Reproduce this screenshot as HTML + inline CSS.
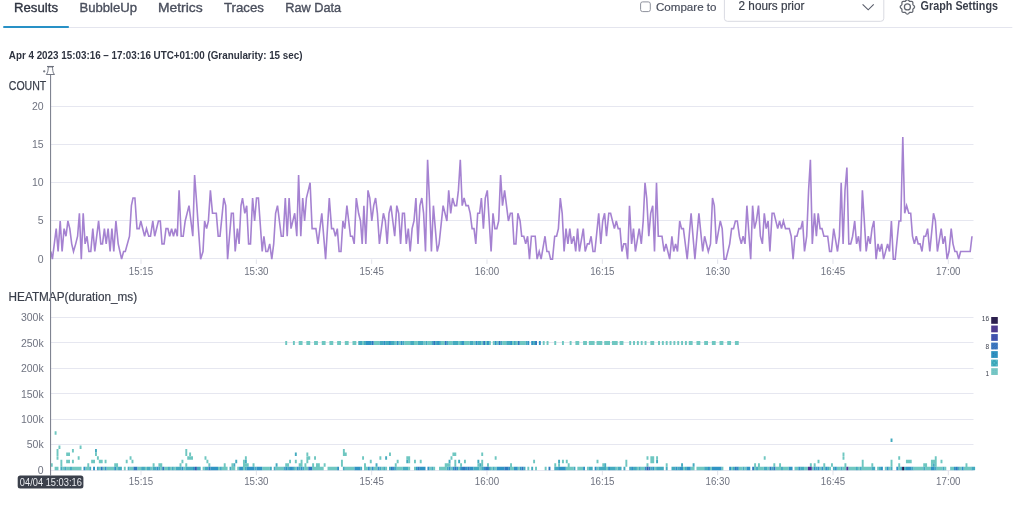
<!DOCTYPE html><html><head><meta charset="utf-8"><style>html,body{margin:0;padding:0;background:#fff;overflow:hidden}svg{display:block}text{font-family:"Liberation Sans",sans-serif}</style></head><body>
<svg width="1024" height="509" viewBox="0 0 1024 509">
<rect width="1024" height="509" fill="#fff"/>
<rect x="3.3" y="27" width="1009" height="1" fill="#e4e5ee"/>
<rect x="3.3" y="26" width="65.5" height="2" fill="#2891c6"/>
<text x="14" y="12.2" font-size="13.2" fill="#2e3340" stroke="#2e3340" stroke-width="0.35" textLength="44" lengthAdjust="spacingAndGlyphs">Results</text>
<text x="79.5" y="12.2" font-size="13.2" fill="#4a4f5d" stroke="#4a4f5d" stroke-width="0.35" textLength="57.5" lengthAdjust="spacingAndGlyphs">BubbleUp</text>
<text x="158" y="12.2" font-size="13.2" fill="#4a4f5d" stroke="#4a4f5d" stroke-width="0.35" textLength="44.7" lengthAdjust="spacingAndGlyphs">Metrics</text>
<text x="224" y="12.2" font-size="13.2" fill="#4a4f5d" stroke="#4a4f5d" stroke-width="0.35" textLength="40" lengthAdjust="spacingAndGlyphs">Traces</text>
<text x="285.2" y="12.2" font-size="13.2" fill="#4a4f5d" stroke="#4a4f5d" stroke-width="0.35" textLength="56" lengthAdjust="spacingAndGlyphs">Raw Data</text>
<rect x="640.6" y="1.9" width="9.7" height="9.7" rx="2" fill="#fff" stroke="#8e919c" stroke-width="1"/>
<text x="655.9" y="10.5" font-size="11.8" fill="#4a4f5d" stroke="#4a4f5d" stroke-width="0.2" textLength="60.6" lengthAdjust="spacingAndGlyphs">Compare to</text>
<rect x="724.4" y="-6" width="159.4" height="27.3" rx="3" fill="#fff" stroke="#d9dae2" stroke-width="1"/>
<text x="738.6" y="10.3" font-size="12.2" fill="#3a3f4b" stroke="#3a3f4b" stroke-width="0.2" textLength="65.8" lengthAdjust="spacingAndGlyphs">2 hours prior</text>
<path d="M862.6 4.4 L868.2 9.8 L873.7 4.4" fill="none" stroke="#595d6a" stroke-width="1.15"/>
<g transform="translate(907.4 6.9)" fill="none" stroke="#62666f" stroke-width="1.25">
<path d="M0.00 -7.20 L0.47 -7.10 L0.90 -6.84 L1.29 -6.47 L1.63 -6.09 L1.95 -5.76 L2.30 -5.54 L2.69 -5.45 L3.15 -5.46 L3.67 -5.49 L4.20 -5.47 L4.69 -5.35 L5.09 -5.09 L5.35 -4.69 L5.47 -4.20 L5.49 -3.67 L5.46 -3.15 L5.45 -2.69 L5.54 -2.30 L5.76 -1.95 L6.09 -1.63 L6.47 -1.29 L6.84 -0.90 L7.10 -0.47 L7.20 -0.00 L7.10 0.47 L6.84 0.90 L6.47 1.29 L6.09 1.63 L5.76 1.95 L5.54 2.30 L5.45 2.69 L5.46 3.15 L5.49 3.67 L5.47 4.20 L5.35 4.69 L5.09 5.09 L4.69 5.35 L4.20 5.47 L3.67 5.49 L3.15 5.46 L2.69 5.45 L2.30 5.54 L1.95 5.76 L1.63 6.09 L1.29 6.47 L0.90 6.84 L0.47 7.10 L0.00 7.20 L-0.47 7.10 L-0.90 6.84 L-1.29 6.47 L-1.63 6.09 L-1.95 5.76 L-2.30 5.54 L-2.69 5.45 L-3.15 5.46 L-3.67 5.49 L-4.20 5.47 L-4.69 5.35 L-5.09 5.09 L-5.35 4.69 L-5.47 4.20 L-5.49 3.67 L-5.46 3.15 L-5.45 2.69 L-5.54 2.30 L-5.76 1.95 L-6.09 1.63 L-6.47 1.29 L-6.84 0.90 L-7.10 0.47 L-7.20 0.00 L-7.10 -0.47 L-6.84 -0.90 L-6.47 -1.29 L-6.09 -1.63 L-5.76 -1.95 L-5.54 -2.30 L-5.45 -2.69 L-5.46 -3.15 L-5.49 -3.67 L-5.47 -4.20 L-5.35 -4.69 L-5.09 -5.09 L-4.69 -5.35 L-4.20 -5.47 L-3.67 -5.49 L-3.15 -5.46 L-2.69 -5.45 L-2.30 -5.54 L-1.95 -5.76 L-1.63 -6.09 L-1.29 -6.47 L-0.90 -6.84 L-0.47 -7.10 Z"/>
<circle r="3.0"/></g>
<text x="920.6" y="10.4" font-size="12.2" font-weight="700" fill="#3a3f4b" textLength="77.4" lengthAdjust="spacingAndGlyphs">Graph Settings</text>
<text x="8.8" y="58.7" font-size="10.3" font-weight="700" fill="#2e3340" textLength="293.7" lengthAdjust="spacingAndGlyphs">Apr 4 2023 15:03:16 – 17:03:16 UTC+01:00 (Granularity: 15 sec)</text>
<text x="8.8" y="90" font-size="13" fill="#3a3f4b" stroke="#3a3f4b" stroke-width="0.25" textLength="37.5" lengthAdjust="spacingAndGlyphs">COUNT</text>
<text x="8.6" y="300.6" font-size="12" fill="#3a3f4b" stroke="#3a3f4b" stroke-width="0.2" textLength="128.5" lengthAdjust="spacingAndGlyphs">HEATMAP(duration_ms)</text>
<rect x="51" y="258" width="922.5" height="1" fill="#e6e7f0"/>
<text x="43.6" y="262.60" font-size="10.5" fill="#6f7380" text-anchor="end">0</text>
<rect x="51" y="220" width="922.5" height="1" fill="#e6e7f0"/>
<text x="43.6" y="224.40" font-size="10.5" fill="#6f7380" text-anchor="end">5</text>
<rect x="51" y="182" width="922.5" height="1" fill="#e6e7f0"/>
<text x="43.6" y="186.20" font-size="10.5" fill="#6f7380" text-anchor="end">10</text>
<rect x="51" y="144" width="922.5" height="1" fill="#e6e7f0"/>
<text x="43.6" y="148.00" font-size="10.5" fill="#6f7380" text-anchor="end">15</text>
<rect x="51" y="106" width="922.5" height="1" fill="#e6e7f0"/>
<text x="43.6" y="109.80" font-size="10.5" fill="#6f7380" text-anchor="end">20</text>
<rect x="51" y="470" width="922.5" height="1" fill="#e6e7f0"/>
<text x="43.7" y="473.90" font-size="10.5" fill="#6f7380" text-anchor="end">0</text>
<rect x="51" y="444" width="922.5" height="1" fill="#e6e7f0"/>
<text x="43.7" y="448.44" font-size="10.5" fill="#6f7380" text-anchor="end">50k</text>
<rect x="51" y="419" width="922.5" height="1" fill="#e6e7f0"/>
<text x="43.7" y="422.98" font-size="10.5" fill="#6f7380" text-anchor="end">100k</text>
<rect x="51" y="393" width="922.5" height="1" fill="#e6e7f0"/>
<text x="43.7" y="397.52" font-size="10.5" fill="#6f7380" text-anchor="end">150k</text>
<rect x="51" y="368" width="922.5" height="1" fill="#e6e7f0"/>
<text x="43.7" y="372.06" font-size="10.5" fill="#6f7380" text-anchor="end">200k</text>
<rect x="51" y="342" width="922.5" height="1" fill="#e6e7f0"/>
<text x="43.7" y="346.60" font-size="10.5" fill="#6f7380" text-anchor="end">250k</text>
<rect x="51" y="317" width="922.5" height="1" fill="#e6e7f0"/>
<text x="43.7" y="321.14" font-size="10.5" fill="#6f7380" text-anchor="end">300k</text>
<rect x="140.51" y="259.4" width="1" height="4.5" fill="#e1e2ea"/>
<rect x="140.51" y="470.7" width="1" height="4.5" fill="#e1e2ea"/>
<text x="141.01" y="275" font-size="10.6" fill="#6f7380" text-anchor="middle" textLength="24.4" lengthAdjust="spacingAndGlyphs">15:15</text>
<text x="141.01" y="485.3" font-size="10.6" fill="#6f7380" text-anchor="middle" textLength="24.4" lengthAdjust="spacingAndGlyphs">15:15</text>
<rect x="255.84" y="259.4" width="1" height="4.5" fill="#e1e2ea"/>
<rect x="255.84" y="470.7" width="1" height="4.5" fill="#e1e2ea"/>
<text x="256.34" y="275" font-size="10.6" fill="#6f7380" text-anchor="middle" textLength="24.4" lengthAdjust="spacingAndGlyphs">15:30</text>
<text x="256.34" y="485.3" font-size="10.6" fill="#6f7380" text-anchor="middle" textLength="24.4" lengthAdjust="spacingAndGlyphs">15:30</text>
<rect x="371.17" y="259.4" width="1" height="4.5" fill="#e1e2ea"/>
<rect x="371.17" y="470.7" width="1" height="4.5" fill="#e1e2ea"/>
<text x="371.67" y="275" font-size="10.6" fill="#6f7380" text-anchor="middle" textLength="24.4" lengthAdjust="spacingAndGlyphs">15:45</text>
<text x="371.67" y="485.3" font-size="10.6" fill="#6f7380" text-anchor="middle" textLength="24.4" lengthAdjust="spacingAndGlyphs">15:45</text>
<rect x="486.50" y="259.4" width="1" height="4.5" fill="#e1e2ea"/>
<rect x="486.50" y="470.7" width="1" height="4.5" fill="#e1e2ea"/>
<text x="487.00" y="275" font-size="10.6" fill="#6f7380" text-anchor="middle" textLength="24.4" lengthAdjust="spacingAndGlyphs">16:00</text>
<text x="487.00" y="485.3" font-size="10.6" fill="#6f7380" text-anchor="middle" textLength="24.4" lengthAdjust="spacingAndGlyphs">16:00</text>
<rect x="601.83" y="259.4" width="1" height="4.5" fill="#e1e2ea"/>
<rect x="601.83" y="470.7" width="1" height="4.5" fill="#e1e2ea"/>
<text x="602.33" y="275" font-size="10.6" fill="#6f7380" text-anchor="middle" textLength="24.4" lengthAdjust="spacingAndGlyphs">16:15</text>
<text x="602.33" y="485.3" font-size="10.6" fill="#6f7380" text-anchor="middle" textLength="24.4" lengthAdjust="spacingAndGlyphs">16:15</text>
<rect x="717.16" y="259.4" width="1" height="4.5" fill="#e1e2ea"/>
<rect x="717.16" y="470.7" width="1" height="4.5" fill="#e1e2ea"/>
<text x="717.66" y="275" font-size="10.6" fill="#6f7380" text-anchor="middle" textLength="24.4" lengthAdjust="spacingAndGlyphs">16:30</text>
<text x="717.66" y="485.3" font-size="10.6" fill="#6f7380" text-anchor="middle" textLength="24.4" lengthAdjust="spacingAndGlyphs">16:30</text>
<rect x="832.49" y="259.4" width="1" height="4.5" fill="#e1e2ea"/>
<rect x="832.49" y="470.7" width="1" height="4.5" fill="#e1e2ea"/>
<text x="832.99" y="275" font-size="10.6" fill="#6f7380" text-anchor="middle" textLength="24.4" lengthAdjust="spacingAndGlyphs">16:45</text>
<text x="832.99" y="485.3" font-size="10.6" fill="#6f7380" text-anchor="middle" textLength="24.4" lengthAdjust="spacingAndGlyphs">16:45</text>
<rect x="947.82" y="259.4" width="1" height="4.5" fill="#e1e2ea"/>
<rect x="947.82" y="470.7" width="1" height="4.5" fill="#e1e2ea"/>
<text x="948.32" y="275" font-size="10.6" fill="#6f7380" text-anchor="middle" textLength="24.4" lengthAdjust="spacingAndGlyphs">17:00</text>
<text x="948.32" y="485.3" font-size="10.6" fill="#6f7380" text-anchor="middle" textLength="24.4" lengthAdjust="spacingAndGlyphs">17:00</text>
<path fill="#6fc7c1" d="M54.64 466.80h1.92v3.50h-1.92zM56.56 466.80h1.92v3.50h-1.92zM62.33 466.80h1.92v3.50h-1.92zM66.17 466.80h1.92v3.50h-1.92zM68.09 466.80h1.92v3.50h-1.92zM71.94 466.80h1.92v3.50h-1.92zM73.86 466.80h1.92v3.50h-1.92zM75.78 466.80h1.92v3.50h-1.92zM77.70 466.80h1.92v3.50h-1.92zM79.62 466.80h1.92v3.50h-1.92zM85.39 466.80h1.92v3.50h-1.92zM87.31 466.80h1.92v3.50h-1.92zM98.84 466.80h1.92v3.50h-1.92zM102.69 466.80h1.92v3.50h-1.92zM106.53 466.80h1.92v3.50h-1.92zM108.45 466.80h1.92v3.50h-1.92zM110.37 466.80h1.92v3.50h-1.92zM112.29 466.80h1.92v3.50h-1.92zM116.14 466.80h1.92v3.50h-1.92zM123.82 466.80h1.92v3.50h-1.92zM129.59 466.80h1.92v3.50h-1.92zM131.51 466.80h1.92v3.50h-1.92zM137.27 466.80h1.92v3.50h-1.92zM139.20 466.80h1.92v3.50h-1.92zM144.96 466.80h1.92v3.50h-1.92zM150.73 466.80h1.92v3.50h-1.92zM160.33 466.80h1.92v3.50h-1.92zM164.18 466.80h1.92v3.50h-1.92zM166.10 466.80h1.92v3.50h-1.92zM169.94 466.80h1.92v3.50h-1.92zM173.79 466.80h1.92v3.50h-1.92zM183.39 466.80h1.92v3.50h-1.92zM202.61 466.80h1.92v3.50h-1.92zM217.99 466.80h1.92v3.50h-1.92zM221.83 466.80h1.92v3.50h-1.92zM223.75 466.80h1.92v3.50h-1.92zM225.67 466.80h1.92v3.50h-1.92zM231.44 466.80h1.92v3.50h-1.92zM233.36 466.80h1.92v3.50h-1.92zM237.20 466.80h1.92v3.50h-1.92zM242.97 466.80h1.92v3.50h-1.92zM262.18 466.80h1.92v3.50h-1.92zM264.11 466.80h1.92v3.50h-1.92zM266.03 466.80h1.92v3.50h-1.92zM267.95 466.80h1.92v3.50h-1.92zM275.63 466.80h1.92v3.50h-1.92zM277.56 466.80h1.92v3.50h-1.92zM279.48 466.80h1.92v3.50h-1.92zM281.40 466.80h1.92v3.50h-1.92zM294.85 466.80h1.92v3.50h-1.92zM304.46 466.80h1.92v3.50h-1.92zM306.38 466.80h1.92v3.50h-1.92zM312.15 466.80h1.92v3.50h-1.92zM314.07 466.80h1.92v3.50h-1.92zM315.99 466.80h1.92v3.50h-1.92zM317.91 466.80h1.92v3.50h-1.92zM319.83 466.80h1.92v3.50h-1.92zM321.75 466.80h1.92v3.50h-1.92zM327.52 466.80h1.92v3.50h-1.92zM329.44 466.80h1.92v3.50h-1.92zM331.36 466.80h1.92v3.50h-1.92zM333.29 466.80h1.92v3.50h-1.92zM335.21 466.80h1.92v3.50h-1.92zM344.81 466.80h1.92v3.50h-1.92zM346.74 466.80h1.92v3.50h-1.92zM348.66 466.80h1.92v3.50h-1.92zM350.58 466.80h1.92v3.50h-1.92zM352.50 466.80h1.92v3.50h-1.92zM364.03 466.80h1.92v3.50h-1.92zM365.95 466.80h1.92v3.50h-1.92zM369.80 466.80h1.92v3.50h-1.92zM373.64 466.80h1.92v3.50h-1.92zM375.56 466.80h1.92v3.50h-1.92zM381.33 466.80h1.92v3.50h-1.92zM385.17 466.80h1.92v3.50h-1.92zM396.70 466.80h1.92v3.50h-1.92zM398.62 466.80h1.92v3.50h-1.92zM400.54 466.80h1.92v3.50h-1.92zM408.23 466.80h1.92v3.50h-1.92zM414.00 466.80h1.92v3.50h-1.92zM429.37 466.80h1.92v3.50h-1.92zM433.21 466.80h1.92v3.50h-1.92zM438.98 466.80h1.92v3.50h-1.92zM440.90 466.80h1.92v3.50h-1.92zM442.82 466.80h1.92v3.50h-1.92zM444.74 466.80h1.92v3.50h-1.92zM450.51 466.80h1.92v3.50h-1.92zM458.19 466.80h1.92v3.50h-1.92zM479.33 466.80h1.92v3.50h-1.92zM490.86 466.80h1.92v3.50h-1.92zM494.70 466.80h1.92v3.50h-1.92zM510.08 466.80h1.92v3.50h-1.92zM512.00 466.80h1.92v3.50h-1.92zM517.76 466.80h1.92v3.50h-1.92zM527.37 466.80h1.92v3.50h-1.92zM535.06 466.80h1.92v3.50h-1.92zM544.67 466.80h1.92v3.50h-1.92zM565.81 466.80h1.92v3.50h-1.92zM567.73 466.80h1.92v3.50h-1.92zM569.65 466.80h1.92v3.50h-1.92zM571.57 466.80h1.92v3.50h-1.92zM577.34 466.80h1.92v3.50h-1.92zM579.26 466.80h1.92v3.50h-1.92zM581.18 466.80h1.92v3.50h-1.92zM586.94 466.80h1.92v3.50h-1.92zM596.55 466.80h1.92v3.50h-1.92zM606.16 466.80h1.92v3.50h-1.92zM615.77 466.80h1.92v3.50h-1.92zM636.91 466.80h1.92v3.50h-1.92zM640.75 466.80h1.92v3.50h-1.92zM642.67 466.80h1.92v3.50h-1.92zM654.20 466.80h1.92v3.50h-1.92zM683.03 466.80h1.92v3.50h-1.92zM690.71 466.80h1.92v3.50h-1.92zM692.64 466.80h1.92v3.50h-1.92zM696.48 466.80h1.92v3.50h-1.92zM698.40 466.80h1.92v3.50h-1.92zM700.32 466.80h1.92v3.50h-1.92zM702.24 466.80h1.92v3.50h-1.92zM709.93 466.80h1.92v3.50h-1.92zM721.46 466.80h1.92v3.50h-1.92zM731.07 466.80h1.92v3.50h-1.92zM738.76 466.80h1.92v3.50h-1.92zM740.68 466.80h1.92v3.50h-1.92zM744.52 466.80h1.92v3.50h-1.92zM754.13 466.80h1.92v3.50h-1.92zM757.97 466.80h1.92v3.50h-1.92zM759.89 466.80h1.92v3.50h-1.92zM761.82 466.80h1.92v3.50h-1.92zM767.58 466.80h1.92v3.50h-1.92zM775.27 466.80h1.92v3.50h-1.92zM777.19 466.80h1.92v3.50h-1.92zM779.11 466.80h1.92v3.50h-1.92zM782.95 466.80h1.92v3.50h-1.92zM784.88 466.80h1.92v3.50h-1.92zM786.80 466.80h1.92v3.50h-1.92zM794.48 466.80h1.92v3.50h-1.92zM796.41 466.80h1.92v3.50h-1.92zM804.09 466.80h1.92v3.50h-1.92zM806.01 466.80h1.92v3.50h-1.92zM811.78 466.80h1.92v3.50h-1.92zM819.47 466.80h1.92v3.50h-1.92zM823.31 466.80h1.92v3.50h-1.92zM829.07 466.80h1.92v3.50h-1.92zM836.76 466.80h1.92v3.50h-1.92zM838.68 466.80h1.92v3.50h-1.92zM842.53 466.80h1.92v3.50h-1.92zM844.45 466.80h1.92v3.50h-1.92zM848.29 466.80h1.92v3.50h-1.92zM850.21 466.80h1.92v3.50h-1.92zM852.13 466.80h1.92v3.50h-1.92zM854.06 466.80h1.92v3.50h-1.92zM857.90 466.80h1.92v3.50h-1.92zM861.74 466.80h1.92v3.50h-1.92zM863.66 466.80h1.92v3.50h-1.92zM865.59 466.80h1.92v3.50h-1.92zM867.51 466.80h1.92v3.50h-1.92zM869.43 466.80h1.92v3.50h-1.92zM877.12 466.80h1.92v3.50h-1.92zM884.80 466.80h1.92v3.50h-1.92zM888.65 466.80h1.92v3.50h-1.92zM898.25 466.80h1.92v3.50h-1.92zM913.63 466.80h1.92v3.50h-1.92zM915.55 466.80h1.92v3.50h-1.92zM917.47 466.80h1.92v3.50h-1.92zM919.39 466.80h1.92v3.50h-1.92zM921.31 466.80h1.92v3.50h-1.92zM925.16 466.80h1.92v3.50h-1.92zM927.08 466.80h1.92v3.50h-1.92zM929.00 466.80h1.92v3.50h-1.92zM936.69 466.80h1.92v3.50h-1.92zM938.61 466.80h1.92v3.50h-1.92zM940.53 466.80h1.92v3.50h-1.92zM944.37 466.80h1.92v3.50h-1.92zM950.14 466.80h1.92v3.50h-1.92zM952.06 466.80h1.92v3.50h-1.92zM959.75 466.80h1.92v3.50h-1.92zM963.59 466.80h1.92v3.50h-1.92zM965.51 466.80h1.92v3.50h-1.92zM967.43 466.80h1.92v3.50h-1.92zM969.36 466.80h1.92v3.50h-1.92zM50.80 463.25h1.92v3.50h-1.92zM54.64 431.30h1.92v3.50h-1.92zM56.56 456.15h1.92v3.50h-1.92zM56.56 452.60h1.92v3.50h-1.92zM56.56 449.05h1.92v3.50h-1.92zM58.49 445.50h1.92v3.50h-1.92zM60.41 463.25h1.92v3.50h-1.92zM60.41 459.70h1.92v3.50h-1.92zM66.17 459.70h1.92v3.50h-1.92zM66.17 452.60h1.92v3.50h-1.92zM68.09 459.70h1.92v3.50h-1.92zM68.09 452.60h1.92v3.50h-1.92zM71.94 459.70h1.92v3.50h-1.92zM71.94 449.05h1.92v3.50h-1.92zM77.70 456.15h1.92v3.50h-1.92zM79.62 445.50h1.92v3.50h-1.92zM87.31 463.25h1.92v3.50h-1.92zM91.16 459.70h1.92v3.50h-1.92zM93.08 459.70h1.92v3.50h-1.92zM95.00 452.60h1.92v3.50h-1.92zM96.92 456.15h1.92v3.50h-1.92zM98.84 459.70h1.92v3.50h-1.92zM100.76 459.70h1.92v3.50h-1.92zM104.61 459.70h1.92v3.50h-1.92zM114.22 463.25h1.92v3.50h-1.92zM116.14 463.25h1.92v3.50h-1.92zM125.74 459.70h1.92v3.50h-1.92zM129.59 456.15h1.92v3.50h-1.92zM131.51 459.70h1.92v3.50h-1.92zM152.65 463.25h1.92v3.50h-1.92zM158.41 463.25h1.92v3.50h-1.92zM160.33 463.25h1.92v3.50h-1.92zM179.55 463.25h1.92v3.50h-1.92zM181.47 459.70h1.92v3.50h-1.92zM185.32 463.25h1.92v3.50h-1.92zM185.32 452.60h1.92v3.50h-1.92zM185.32 449.05h1.92v3.50h-1.92zM187.24 456.15h1.92v3.50h-1.92zM189.16 456.15h1.92v3.50h-1.92zM189.16 452.60h1.92v3.50h-1.92zM191.08 456.15h1.92v3.50h-1.92zM204.53 456.15h1.92v3.50h-1.92zM206.45 459.70h1.92v3.50h-1.92zM208.38 463.25h1.92v3.50h-1.92zM223.75 463.25h1.92v3.50h-1.92zM231.44 463.25h1.92v3.50h-1.92zM242.97 463.25h1.92v3.50h-1.92zM242.97 459.70h1.92v3.50h-1.92zM244.89 463.25h1.92v3.50h-1.92zM244.89 456.15h1.92v3.50h-1.92zM246.81 463.25h1.92v3.50h-1.92zM252.57 463.25h1.92v3.50h-1.92zM285.24 463.25h1.92v3.50h-1.92zM287.17 463.25h1.92v3.50h-1.92zM289.09 459.70h1.92v3.50h-1.92zM294.85 459.70h1.92v3.50h-1.92zM298.69 463.25h1.92v3.50h-1.92zM300.62 463.25h1.92v3.50h-1.92zM300.62 459.70h1.92v3.50h-1.92zM304.46 463.25h1.92v3.50h-1.92zM306.38 459.70h1.92v3.50h-1.92zM306.38 456.15h1.92v3.50h-1.92zM306.38 452.60h1.92v3.50h-1.92zM308.30 456.15h1.92v3.50h-1.92zM312.15 463.25h1.92v3.50h-1.92zM314.07 456.15h1.92v3.50h-1.92zM315.99 463.25h1.92v3.50h-1.92zM317.91 463.25h1.92v3.50h-1.92zM323.68 463.25h1.92v3.50h-1.92zM340.97 463.25h1.92v3.50h-1.92zM340.97 459.70h1.92v3.50h-1.92zM342.89 452.60h1.92v3.50h-1.92zM342.89 449.05h1.92v3.50h-1.92zM344.81 452.60h1.92v3.50h-1.92zM362.11 456.15h1.92v3.50h-1.92zM364.03 463.25h1.92v3.50h-1.92zM369.80 459.70h1.92v3.50h-1.92zM379.41 456.15h1.92v3.50h-1.92zM389.01 452.60h1.92v3.50h-1.92zM394.78 463.25h1.92v3.50h-1.92zM396.70 459.70h1.92v3.50h-1.92zM406.31 456.15h1.92v3.50h-1.92zM408.23 459.70h1.92v3.50h-1.92zM408.23 456.15h1.92v3.50h-1.92zM414.00 459.70h1.92v3.50h-1.92zM419.76 459.70h1.92v3.50h-1.92zM444.74 463.25h1.92v3.50h-1.92zM446.66 463.25h1.92v3.50h-1.92zM448.58 463.25h1.92v3.50h-1.92zM450.51 456.15h1.92v3.50h-1.92zM452.43 452.60h1.92v3.50h-1.92zM454.35 452.60h1.92v3.50h-1.92zM454.35 463.25h1.92v3.50h-1.92zM454.35 459.70h1.92v3.50h-1.92zM460.12 463.25h1.92v3.50h-1.92zM463.96 459.70h1.92v3.50h-1.92zM477.41 463.25h1.92v3.50h-1.92zM481.25 463.25h1.92v3.50h-1.92zM481.25 459.70h1.92v3.50h-1.92zM481.25 452.60h1.92v3.50h-1.92zM487.02 463.25h1.92v3.50h-1.92zM494.70 456.15h1.92v3.50h-1.92zM510.08 463.25h1.92v3.50h-1.92zM533.14 459.70h1.92v3.50h-1.92zM554.28 463.25h1.92v3.50h-1.92zM558.12 463.25h1.92v3.50h-1.92zM561.96 459.70h1.92v3.50h-1.92zM565.81 459.70h1.92v3.50h-1.92zM567.73 463.25h1.92v3.50h-1.92zM596.55 459.70h1.92v3.50h-1.92zM602.32 463.25h1.92v3.50h-1.92zM625.38 463.25h1.92v3.50h-1.92zM625.38 459.70h1.92v3.50h-1.92zM646.52 463.25h1.92v3.50h-1.92zM646.52 456.15h1.92v3.50h-1.92zM650.36 459.70h1.92v3.50h-1.92zM650.36 456.15h1.92v3.50h-1.92zM652.28 459.70h1.92v3.50h-1.92zM652.28 456.15h1.92v3.50h-1.92zM656.12 456.15h1.92v3.50h-1.92zM665.73 463.25h1.92v3.50h-1.92zM754.13 463.25h1.92v3.50h-1.92zM757.97 463.25h1.92v3.50h-1.92zM763.74 456.15h1.92v3.50h-1.92zM773.35 463.25h1.92v3.50h-1.92zM779.11 463.25h1.92v3.50h-1.92zM809.86 463.25h1.92v3.50h-1.92zM813.70 463.25h1.92v3.50h-1.92zM817.54 459.70h1.92v3.50h-1.92zM823.31 463.25h1.92v3.50h-1.92zM831.00 463.25h1.92v3.50h-1.92zM842.53 456.15h1.92v3.50h-1.92zM842.53 452.60h1.92v3.50h-1.92zM844.45 463.25h1.92v3.50h-1.92zM861.74 463.25h1.92v3.50h-1.92zM861.74 459.70h1.92v3.50h-1.92zM871.35 463.25h1.92v3.50h-1.92zM890.57 463.25h1.92v3.50h-1.92zM890.57 459.70h1.92v3.50h-1.92zM898.25 463.25h1.92v3.50h-1.92zM898.25 456.15h1.92v3.50h-1.92zM905.94 459.70h1.92v3.50h-1.92zM907.86 459.70h1.92v3.50h-1.92zM909.78 459.70h1.92v3.50h-1.92zM923.24 463.25h1.92v3.50h-1.92zM925.16 463.25h1.92v3.50h-1.92zM930.92 463.25h1.92v3.50h-1.92zM930.92 459.70h1.92v3.50h-1.92zM932.84 459.70h1.92v3.50h-1.92zM934.77 463.25h1.92v3.50h-1.92zM934.77 459.70h1.92v3.50h-1.92zM934.77 456.15h1.92v3.50h-1.92zM940.53 459.70h1.92v3.50h-1.92zM965.51 463.25h1.92v3.50h-1.92zM285.24 341.00h1.92v3.90h-1.92zM292.93 341.00h1.92v3.90h-1.92zM298.69 341.00h1.92v3.90h-1.92zM300.62 341.00h1.92v3.90h-1.92zM306.38 341.00h1.92v3.90h-1.92zM308.30 341.00h1.92v3.90h-1.92zM314.07 341.00h1.92v3.90h-1.92zM315.99 341.00h1.92v3.90h-1.92zM321.75 341.00h1.92v3.90h-1.92zM323.68 341.00h1.92v3.90h-1.92zM329.44 341.00h1.92v3.90h-1.92zM331.36 341.00h1.92v3.90h-1.92zM337.13 341.00h1.92v3.90h-1.92zM339.05 341.00h1.92v3.90h-1.92zM344.81 341.00h1.92v3.90h-1.92zM346.74 341.00h1.92v3.90h-1.92zM352.50 341.00h1.92v3.90h-1.92zM354.42 341.00h1.92v3.90h-1.92zM362.11 341.00h1.92v3.90h-1.92zM373.64 341.00h1.92v3.90h-1.92zM375.56 341.00h1.92v3.90h-1.92zM377.48 341.00h1.92v3.90h-1.92zM394.78 341.00h1.92v3.90h-1.92zM398.62 341.00h1.92v3.90h-1.92zM404.39 341.00h1.92v3.90h-1.92zM406.31 341.00h1.92v3.90h-1.92zM408.23 341.00h1.92v3.90h-1.92zM414.00 341.00h1.92v3.90h-1.92zM415.92 341.00h1.92v3.90h-1.92zM423.60 341.00h1.92v3.90h-1.92zM427.45 341.00h1.92v3.90h-1.92zM429.37 341.00h1.92v3.90h-1.92zM440.90 341.00h1.92v3.90h-1.92zM442.82 341.00h1.92v3.90h-1.92zM448.58 341.00h1.92v3.90h-1.92zM450.51 341.00h1.92v3.90h-1.92zM458.19 341.00h1.92v3.90h-1.92zM463.96 341.00h1.92v3.90h-1.92zM465.88 341.00h1.92v3.90h-1.92zM467.80 341.00h1.92v3.90h-1.92zM473.57 341.00h1.92v3.90h-1.92zM481.25 341.00h1.92v3.90h-1.92zM485.10 341.00h1.92v3.90h-1.92zM488.94 341.00h1.92v3.90h-1.92zM492.78 341.00h1.92v3.90h-1.92zM496.63 341.00h1.92v3.90h-1.92zM502.39 341.00h1.92v3.90h-1.92zM504.31 341.00h1.92v3.90h-1.92zM512.00 341.00h1.92v3.90h-1.92zM515.84 341.00h1.92v3.90h-1.92zM519.69 341.00h1.92v3.90h-1.92zM521.61 341.00h1.92v3.90h-1.92zM523.53 341.00h1.92v3.90h-1.92zM542.75 341.00h1.92v3.90h-1.92zM546.59 341.00h1.92v3.90h-1.92zM554.28 341.00h1.92v3.90h-1.92zM561.96 341.00h1.92v3.90h-1.92zM569.65 341.00h1.92v3.90h-1.92zM575.41 341.00h1.92v3.90h-1.92zM577.34 341.00h1.92v3.90h-1.92zM583.10 341.00h1.92v3.90h-1.92zM585.02 341.00h1.92v3.90h-1.92zM588.87 341.00h1.92v3.90h-1.92zM590.79 341.00h1.92v3.90h-1.92zM592.71 341.00h1.92v3.90h-1.92zM596.55 341.00h1.92v3.90h-1.92zM598.47 341.00h1.92v3.90h-1.92zM600.40 341.00h1.92v3.90h-1.92zM604.24 341.00h1.92v3.90h-1.92zM606.16 341.00h1.92v3.90h-1.92zM608.08 341.00h1.92v3.90h-1.92zM611.93 341.00h1.92v3.90h-1.92zM613.85 341.00h1.92v3.90h-1.92zM615.77 341.00h1.92v3.90h-1.92zM619.61 341.00h1.92v3.90h-1.92zM621.53 341.00h1.92v3.90h-1.92zM629.22 341.00h1.92v3.90h-1.92zM633.06 341.00h1.92v3.90h-1.92zM636.91 341.00h1.92v3.90h-1.92zM640.75 341.00h1.92v3.90h-1.92zM644.59 341.00h1.92v3.90h-1.92zM650.36 341.00h1.92v3.90h-1.92zM652.28 341.00h1.92v3.90h-1.92zM658.05 341.00h1.92v3.90h-1.92zM661.89 341.00h1.92v3.90h-1.92zM665.73 341.00h1.92v3.90h-1.92zM669.58 341.00h1.92v3.90h-1.92zM673.42 341.00h1.92v3.90h-1.92zM677.26 341.00h1.92v3.90h-1.92zM681.11 341.00h1.92v3.90h-1.92zM684.95 341.00h1.92v3.90h-1.92zM688.79 341.00h1.92v3.90h-1.92zM690.71 341.00h1.92v3.90h-1.92zM696.48 341.00h1.92v3.90h-1.92zM698.40 341.00h1.92v3.90h-1.92zM704.17 341.00h1.92v3.90h-1.92zM706.09 341.00h1.92v3.90h-1.92zM711.85 341.00h1.92v3.90h-1.92zM713.77 341.00h1.92v3.90h-1.92zM719.54 341.00h1.92v3.90h-1.92zM721.46 341.00h1.92v3.90h-1.92zM727.23 341.00h1.92v3.90h-1.92zM729.15 341.00h1.92v3.90h-1.92zM734.91 341.00h1.92v3.90h-1.92zM736.83 341.00h1.92v3.90h-1.92z"/>
<path fill="#44abbf" d="M60.41 466.80h1.92v3.50h-1.92zM64.25 466.80h1.92v3.50h-1.92zM70.02 466.80h1.92v3.50h-1.92zM89.23 466.80h1.92v3.50h-1.92zM96.92 466.80h1.92v3.50h-1.92zM118.06 466.80h1.92v3.50h-1.92zM119.98 466.80h1.92v3.50h-1.92zM127.67 466.80h1.92v3.50h-1.92zM141.12 466.80h1.92v3.50h-1.92zM143.04 466.80h1.92v3.50h-1.92zM146.88 466.80h1.92v3.50h-1.92zM148.81 466.80h1.92v3.50h-1.92zM152.65 466.80h1.92v3.50h-1.92zM154.57 466.80h1.92v3.50h-1.92zM158.41 466.80h1.92v3.50h-1.92zM168.02 466.80h1.92v3.50h-1.92zM171.87 466.80h1.92v3.50h-1.92zM175.71 466.80h1.92v3.50h-1.92zM177.63 466.80h1.92v3.50h-1.92zM179.55 466.80h1.92v3.50h-1.92zM185.32 466.80h1.92v3.50h-1.92zM187.24 466.80h1.92v3.50h-1.92zM189.16 466.80h1.92v3.50h-1.92zM191.08 466.80h1.92v3.50h-1.92zM196.85 466.80h1.92v3.50h-1.92zM198.77 466.80h1.92v3.50h-1.92zM204.53 466.80h1.92v3.50h-1.92zM206.45 466.80h1.92v3.50h-1.92zM219.91 466.80h1.92v3.50h-1.92zM229.51 466.80h1.92v3.50h-1.92zM244.89 466.80h1.92v3.50h-1.92zM254.50 466.80h1.92v3.50h-1.92zM269.87 466.80h1.92v3.50h-1.92zM273.71 466.80h1.92v3.50h-1.92zM283.32 466.80h1.92v3.50h-1.92zM287.17 466.80h1.92v3.50h-1.92zM292.93 466.80h1.92v3.50h-1.92zM298.69 466.80h1.92v3.50h-1.92zM302.54 466.80h1.92v3.50h-1.92zM342.89 466.80h1.92v3.50h-1.92zM360.19 466.80h1.92v3.50h-1.92zM379.41 466.80h1.92v3.50h-1.92zM383.25 466.80h1.92v3.50h-1.92zM389.01 466.80h1.92v3.50h-1.92zM394.78 466.80h1.92v3.50h-1.92zM402.47 466.80h1.92v3.50h-1.92zM404.39 466.80h1.92v3.50h-1.92zM406.31 466.80h1.92v3.50h-1.92zM431.29 466.80h1.92v3.50h-1.92zM446.66 466.80h1.92v3.50h-1.92zM473.57 466.80h1.92v3.50h-1.92zM475.49 466.80h1.92v3.50h-1.92zM477.41 466.80h1.92v3.50h-1.92zM481.25 466.80h1.92v3.50h-1.92zM488.94 466.80h1.92v3.50h-1.92zM492.78 466.80h1.92v3.50h-1.92zM523.53 466.80h1.92v3.50h-1.92zM531.22 466.80h1.92v3.50h-1.92zM554.28 466.80h1.92v3.50h-1.92zM556.20 466.80h1.92v3.50h-1.92zM573.49 466.80h1.92v3.50h-1.92zM588.87 466.80h1.92v3.50h-1.92zM590.79 466.80h1.92v3.50h-1.92zM598.47 466.80h1.92v3.50h-1.92zM600.40 466.80h1.92v3.50h-1.92zM602.32 466.80h1.92v3.50h-1.92zM604.24 466.80h1.92v3.50h-1.92zM610.00 466.80h1.92v3.50h-1.92zM611.93 466.80h1.92v3.50h-1.92zM613.85 466.80h1.92v3.50h-1.92zM617.69 466.80h1.92v3.50h-1.92zM619.61 466.80h1.92v3.50h-1.92zM623.46 466.80h1.92v3.50h-1.92zM629.22 466.80h1.92v3.50h-1.92zM633.06 466.80h1.92v3.50h-1.92zM634.99 466.80h1.92v3.50h-1.92zM638.83 466.80h1.92v3.50h-1.92zM650.36 466.80h1.92v3.50h-1.92zM656.12 466.80h1.92v3.50h-1.92zM658.05 466.80h1.92v3.50h-1.92zM659.97 466.80h1.92v3.50h-1.92zM661.89 466.80h1.92v3.50h-1.92zM665.73 466.80h1.92v3.50h-1.92zM671.50 466.80h1.92v3.50h-1.92zM673.42 466.80h1.92v3.50h-1.92zM677.26 466.80h1.92v3.50h-1.92zM684.95 466.80h1.92v3.50h-1.92zM704.17 466.80h1.92v3.50h-1.92zM706.09 466.80h1.92v3.50h-1.92zM732.99 466.80h1.92v3.50h-1.92zM742.60 466.80h1.92v3.50h-1.92zM756.05 466.80h1.92v3.50h-1.92zM763.74 466.80h1.92v3.50h-1.92zM765.66 466.80h1.92v3.50h-1.92zM771.42 466.80h1.92v3.50h-1.92zM781.03 466.80h1.92v3.50h-1.92zM800.25 466.80h1.92v3.50h-1.92zM802.17 466.80h1.92v3.50h-1.92zM815.62 466.80h1.92v3.50h-1.92zM827.15 466.80h1.92v3.50h-1.92zM832.92 466.80h1.92v3.50h-1.92zM840.60 466.80h1.92v3.50h-1.92zM855.98 466.80h1.92v3.50h-1.92zM859.82 466.80h1.92v3.50h-1.92zM871.35 466.80h1.92v3.50h-1.92zM873.27 466.80h1.92v3.50h-1.92zM879.04 466.80h1.92v3.50h-1.92zM890.57 466.80h1.92v3.50h-1.92zM900.18 466.80h1.92v3.50h-1.92zM904.02 466.80h1.92v3.50h-1.92zM911.71 466.80h1.92v3.50h-1.92zM923.24 466.80h1.92v3.50h-1.92zM934.77 466.80h1.92v3.50h-1.92zM942.45 466.80h1.92v3.50h-1.92zM957.83 466.80h1.92v3.50h-1.92zM971.28 466.80h1.92v3.50h-1.92zM973.20 466.80h1.92v3.50h-1.92zM95.00 449.05h1.92v3.50h-1.92zM233.36 463.25h1.92v3.50h-1.92zM235.28 459.70h1.92v3.50h-1.92zM244.89 459.70h1.92v3.50h-1.92zM275.63 463.25h1.92v3.50h-1.92zM294.85 452.60h1.92v3.50h-1.92zM375.56 463.25h1.92v3.50h-1.92zM385.17 456.15h1.92v3.50h-1.92zM406.31 459.70h1.92v3.50h-1.92zM448.58 459.70h1.92v3.50h-1.92zM458.19 459.70h1.92v3.50h-1.92zM477.41 459.70h1.92v3.50h-1.92zM479.33 463.25h1.92v3.50h-1.92zM558.12 459.70h1.92v3.50h-1.92zM604.24 463.25h1.92v3.50h-1.92zM656.12 459.70h1.92v3.50h-1.92zM681.11 463.25h1.92v3.50h-1.92zM692.64 463.25h1.92v3.50h-1.92zM890.57 438.40h1.92v3.50h-1.92zM932.84 463.25h1.92v3.50h-1.92zM358.27 341.00h1.92v3.90h-1.92zM360.19 341.00h1.92v3.90h-1.92zM364.03 341.00h1.92v3.90h-1.92zM379.41 341.00h1.92v3.90h-1.92zM381.33 341.00h1.92v3.90h-1.92zM385.17 341.00h1.92v3.90h-1.92zM387.09 341.00h1.92v3.90h-1.92zM390.94 341.00h1.92v3.90h-1.92zM392.86 341.00h1.92v3.90h-1.92zM402.47 341.00h1.92v3.90h-1.92zM410.15 341.00h1.92v3.90h-1.92zM412.07 341.00h1.92v3.90h-1.92zM417.84 341.00h1.92v3.90h-1.92zM419.76 341.00h1.92v3.90h-1.92zM421.68 341.00h1.92v3.90h-1.92zM425.52 341.00h1.92v3.90h-1.92zM431.29 341.00h1.92v3.90h-1.92zM435.13 341.00h1.92v3.90h-1.92zM438.98 341.00h1.92v3.90h-1.92zM446.66 341.00h1.92v3.90h-1.92zM452.43 341.00h1.92v3.90h-1.92zM454.35 341.00h1.92v3.90h-1.92zM456.27 341.00h1.92v3.90h-1.92zM460.12 341.00h1.92v3.90h-1.92zM469.72 341.00h1.92v3.90h-1.92zM471.64 341.00h1.92v3.90h-1.92zM477.41 341.00h1.92v3.90h-1.92zM479.33 341.00h1.92v3.90h-1.92zM500.47 341.00h1.92v3.90h-1.92zM506.24 341.00h1.92v3.90h-1.92zM508.16 341.00h1.92v3.90h-1.92zM513.92 341.00h1.92v3.90h-1.92zM525.45 341.00h1.92v3.90h-1.92zM533.14 341.00h1.92v3.90h-1.92z"/>
<path fill="#2f93c3" d="M83.47 466.80h1.92v3.50h-1.92zM93.08 466.80h1.92v3.50h-1.92zM104.61 466.80h1.92v3.50h-1.92zM114.22 466.80h1.92v3.50h-1.92zM156.49 466.80h1.92v3.50h-1.92zM181.47 466.80h1.92v3.50h-1.92zM193.00 466.80h1.92v3.50h-1.92zM210.30 466.80h1.92v3.50h-1.92zM212.22 466.80h1.92v3.50h-1.92zM214.14 466.80h1.92v3.50h-1.92zM216.06 466.80h1.92v3.50h-1.92zM239.12 466.80h1.92v3.50h-1.92zM241.05 466.80h1.92v3.50h-1.92zM246.81 466.80h1.92v3.50h-1.92zM248.73 466.80h1.92v3.50h-1.92zM250.65 466.80h1.92v3.50h-1.92zM252.57 466.80h1.92v3.50h-1.92zM256.42 466.80h1.92v3.50h-1.92zM258.34 466.80h1.92v3.50h-1.92zM260.26 466.80h1.92v3.50h-1.92zM285.24 466.80h1.92v3.50h-1.92zM289.09 466.80h1.92v3.50h-1.92zM291.01 466.80h1.92v3.50h-1.92zM296.77 466.80h1.92v3.50h-1.92zM300.62 466.80h1.92v3.50h-1.92zM337.13 466.80h1.92v3.50h-1.92zM354.42 466.80h1.92v3.50h-1.92zM356.35 466.80h1.92v3.50h-1.92zM358.27 466.80h1.92v3.50h-1.92zM367.88 466.80h1.92v3.50h-1.92zM371.72 466.80h1.92v3.50h-1.92zM377.48 466.80h1.92v3.50h-1.92zM392.86 466.80h1.92v3.50h-1.92zM415.92 466.80h1.92v3.50h-1.92zM419.76 466.80h1.92v3.50h-1.92zM421.68 466.80h1.92v3.50h-1.92zM423.60 466.80h1.92v3.50h-1.92zM427.45 466.80h1.92v3.50h-1.92zM448.58 466.80h1.92v3.50h-1.92zM452.43 466.80h1.92v3.50h-1.92zM456.27 466.80h1.92v3.50h-1.92zM460.12 466.80h1.92v3.50h-1.92zM465.88 466.80h1.92v3.50h-1.92zM469.72 466.80h1.92v3.50h-1.92zM471.64 466.80h1.92v3.50h-1.92zM483.18 466.80h1.92v3.50h-1.92zM496.63 466.80h1.92v3.50h-1.92zM498.55 466.80h1.92v3.50h-1.92zM500.47 466.80h1.92v3.50h-1.92zM502.39 466.80h1.92v3.50h-1.92zM508.16 466.80h1.92v3.50h-1.92zM513.92 466.80h1.92v3.50h-1.92zM515.84 466.80h1.92v3.50h-1.92zM519.69 466.80h1.92v3.50h-1.92zM558.12 466.80h1.92v3.50h-1.92zM560.04 466.80h1.92v3.50h-1.92zM561.96 466.80h1.92v3.50h-1.92zM563.88 466.80h1.92v3.50h-1.92zM583.10 466.80h1.92v3.50h-1.92zM594.63 466.80h1.92v3.50h-1.92zM608.08 466.80h1.92v3.50h-1.92zM631.14 466.80h1.92v3.50h-1.92zM644.59 466.80h1.92v3.50h-1.92zM652.28 466.80h1.92v3.50h-1.92zM675.34 466.80h1.92v3.50h-1.92zM679.18 466.80h1.92v3.50h-1.92zM681.11 466.80h1.92v3.50h-1.92zM686.87 466.80h1.92v3.50h-1.92zM688.79 466.80h1.92v3.50h-1.92zM708.01 466.80h1.92v3.50h-1.92zM711.85 466.80h1.92v3.50h-1.92zM713.77 466.80h1.92v3.50h-1.92zM715.70 466.80h1.92v3.50h-1.92zM717.62 466.80h1.92v3.50h-1.92zM719.54 466.80h1.92v3.50h-1.92zM729.15 466.80h1.92v3.50h-1.92zM736.83 466.80h1.92v3.50h-1.92zM746.44 466.80h1.92v3.50h-1.92zM748.36 466.80h1.92v3.50h-1.92zM788.72 466.80h1.92v3.50h-1.92zM790.64 466.80h1.92v3.50h-1.92zM798.33 466.80h1.92v3.50h-1.92zM813.70 466.80h1.92v3.50h-1.92zM817.54 466.80h1.92v3.50h-1.92zM821.39 466.80h1.92v3.50h-1.92zM825.23 466.80h1.92v3.50h-1.92zM834.84 466.80h1.92v3.50h-1.92zM880.96 466.80h1.92v3.50h-1.92zM886.72 466.80h1.92v3.50h-1.92zM896.33 466.80h1.92v3.50h-1.92zM905.94 466.80h1.92v3.50h-1.92zM907.86 466.80h1.92v3.50h-1.92zM909.78 466.80h1.92v3.50h-1.92zM930.92 466.80h1.92v3.50h-1.92zM932.84 466.80h1.92v3.50h-1.92zM953.98 466.80h1.92v3.50h-1.92zM961.67 466.80h1.92v3.50h-1.92zM365.95 341.00h1.92v3.90h-1.92zM367.88 341.00h1.92v3.90h-1.92zM369.80 341.00h1.92v3.90h-1.92zM383.25 341.00h1.92v3.90h-1.92zM389.01 341.00h1.92v3.90h-1.92zM396.70 341.00h1.92v3.90h-1.92zM400.54 341.00h1.92v3.90h-1.92zM437.06 341.00h1.92v3.90h-1.92zM462.04 341.00h1.92v3.90h-1.92zM475.49 341.00h1.92v3.90h-1.92zM487.02 341.00h1.92v3.90h-1.92zM494.70 341.00h1.92v3.90h-1.92zM510.08 341.00h1.92v3.90h-1.92zM527.37 341.00h1.92v3.90h-1.92zM531.22 341.00h1.92v3.90h-1.92zM538.90 341.00h1.92v3.90h-1.92z"/>
<path fill="#2d79be" d="M100.76 466.80h1.92v3.50h-1.92zM133.43 466.80h1.92v3.50h-1.92zM135.35 466.80h1.92v3.50h-1.92zM162.26 466.80h1.92v3.50h-1.92zM208.38 466.80h1.92v3.50h-1.92zM308.30 466.80h1.92v3.50h-1.92zM310.23 466.80h1.92v3.50h-1.92zM390.94 466.80h1.92v3.50h-1.92zM417.84 466.80h1.92v3.50h-1.92zM454.35 466.80h1.92v3.50h-1.92zM462.04 466.80h1.92v3.50h-1.92zM463.96 466.80h1.92v3.50h-1.92zM467.80 466.80h1.92v3.50h-1.92zM485.10 466.80h1.92v3.50h-1.92zM487.02 466.80h1.92v3.50h-1.92zM504.31 466.80h1.92v3.50h-1.92zM506.24 466.80h1.92v3.50h-1.92zM521.61 466.80h1.92v3.50h-1.92zM548.51 466.80h1.92v3.50h-1.92zM648.44 466.80h1.92v3.50h-1.92zM734.91 466.80h1.92v3.50h-1.92zM752.21 466.80h1.92v3.50h-1.92zM769.50 466.80h1.92v3.50h-1.92zM773.35 466.80h1.92v3.50h-1.92zM955.90 466.80h1.92v3.50h-1.92zM371.72 341.00h1.92v3.90h-1.92zM433.21 341.00h1.92v3.90h-1.92zM444.74 341.00h1.92v3.90h-1.92zM483.18 341.00h1.92v3.90h-1.92zM498.55 341.00h1.92v3.90h-1.92zM517.76 341.00h1.92v3.90h-1.92zM535.06 341.00h1.92v3.90h-1.92z"/>
<path fill="#3558b0" d="M194.93 466.80h1.92v3.50h-1.92zM646.52 466.80h1.92v3.50h-1.92z"/>
<path fill="#4a2f91" d="M807.94 466.80h1.92v3.50h-1.92zM809.86 466.80h1.92v3.50h-1.92zM846.37 466.80h1.92v3.50h-1.92z"/>
<path fill="#2a1a50" d="M902.10 466.80h1.92v3.50h-1.92z"/>
<polyline points="50.8,251.51 52.4,259.15 56.2,228.59 58.1,251.51 60.2,220.95 62.1,251.51 64.1,228.59 66.0,236.23 67.9,220.95 69.8,228.59 71.7,243.87 73.5,251.51 75.7,243.87 77.6,236.23 79.4,213.31 81.3,259.15 83.2,213.31 85.1,243.87 87.0,236.23 88.9,251.51 90.8,251.51 92.8,228.59 94.8,251.51 98.6,220.95 100.8,243.87 102.5,243.87 104.4,228.59 106.2,243.87 108.1,228.59 110.1,251.51 111.9,228.59 113.8,251.51 115.9,220.95 118.2,243.87 121.6,259.15 123.6,251.51 125.3,251.51 129.5,236.23 131.4,205.67 133.0,198.03 134.9,198.03 137.0,228.59 139.2,228.59 140.8,220.95 144.6,236.23 146.5,228.59 148.7,236.23 150.5,236.23 152.8,220.95 154.7,236.23 158.4,220.95 160.3,220.95 162.0,243.87 164.1,243.87 166.0,228.59 167.9,228.59 169.7,236.23 171.6,228.59 173.5,236.23 175.4,228.59 177.3,236.23 179.1,190.39 181.2,236.23 183.2,236.23 185.2,220.95 189.0,205.67 192.8,236.23 194.6,175.11 196.3,198.03 200.6,259.15 203.0,251.51 204.6,220.95 206.6,228.59 208.4,220.95 210.4,190.39 212.5,213.31 216.3,213.31 218.2,236.23 220.0,236.23 223.8,198.03 225.7,205.67 227.6,259.15 231.4,213.31 233.3,213.31 235.2,251.51 237.4,228.59 239.1,243.87 241.0,205.67 242.5,198.03 244.8,213.31 246.7,205.67 248.6,243.87 250.5,243.87 252.6,198.03 254.6,220.95 256.5,198.03 258.4,198.03 262.2,251.51 263.9,236.23 265.9,251.51 267.7,251.51 269.7,243.87 271.8,259.15 273.7,243.87 275.6,213.31 277.5,205.67 281.3,236.23 283.2,236.23 285.3,198.03 287.2,236.23 289.1,198.03 291.0,228.59 294.7,213.31 296.8,236.23 298.6,175.11 300.8,236.23 302.7,198.03 304.6,220.95 306.4,198.03 308.3,190.39 310.1,182.75 312.1,228.59 315.9,228.59 318.0,243.87 321.8,213.31 325.6,259.15 329.3,198.03 331.6,228.59 333.5,228.59 335.4,236.23 337.3,228.59 339.1,251.51 341.0,251.51 342.9,220.95 344.8,228.59 346.9,205.67 350.5,236.23 352.4,236.23 354.2,243.87 356.3,198.03 358.6,213.31 360.5,220.95 362.2,243.87 363.9,205.67 365.8,243.87 368.0,190.39 369.8,198.03 371.8,220.95 373.7,205.67 375.6,198.03 377.4,213.31 379.4,243.87 383.4,213.31 385.3,220.95 387.2,243.87 389.0,213.31 390.9,205.67 394.7,236.23 396.8,205.67 398.7,213.31 400.6,243.87 402.5,213.31 404.4,213.31 406.3,243.87 408.3,228.59 410.2,251.51 412.1,228.59 414.0,220.95 415.9,198.03 418.0,243.87 419.9,205.67 421.8,198.03 423.6,213.31 425.5,251.51 427.6,159.83 429.4,198.03 431.4,251.51 433.4,205.67 437.2,251.51 439.1,243.87 443.1,205.67 445.0,213.31 446.9,220.95 448.7,190.39 450.7,213.31 452.6,198.03 454.7,205.67 456.6,205.67 458.4,190.39 460.3,159.83 462.2,205.67 464.1,198.03 466.0,205.67 468.3,205.67 470.2,213.31 472.1,228.59 474.0,228.59 475.8,243.87 477.7,213.31 479.6,213.31 481.4,198.03 483.4,228.59 485.3,198.03 487.3,190.39 489.2,220.95 491.1,251.51 493.0,213.31 494.9,228.59 496.8,228.59 498.7,220.95 500.6,175.11 502.5,205.67 504.6,190.39 506.5,205.67 508.4,220.95 510.4,213.31 512.2,213.31 514.0,243.87 515.9,243.87 517.9,213.31 520.1,220.95 521.7,236.23 523.8,236.23 525.7,243.87 527.6,236.23 529.5,259.15 531.4,236.23 535.2,236.23 537.1,259.15 539.2,251.51 541.1,259.15 545.0,236.23 546.9,251.51 548.8,251.51 550.6,259.15 552.5,259.15 554.7,236.23 556.6,236.23 558.4,228.59 560.3,198.03 562.2,213.31 564.1,251.51 566.0,228.59 567.9,243.87 569.8,228.59 571.6,243.87 573.8,236.23 575.7,251.51 577.6,228.59 579.4,251.51 583.3,228.59 585.2,251.51 587.4,243.87 589.3,243.87 591.1,236.23 593.0,251.51 594.9,251.51 598.7,213.31 600.8,243.87 602.7,220.95 604.6,213.31 606.5,236.23 608.8,213.31 610.6,213.31 614.4,228.59 616.3,220.95 618.2,228.59 620.0,228.59 621.9,251.51 623.8,243.87 625.7,243.87 627.6,259.15 629.5,205.67 631.6,243.87 633.5,228.59 635.4,251.51 639.2,228.59 641.3,243.87 643.2,220.95 645.0,182.75 646.7,198.03 648.8,236.23 650.7,213.31 652.7,205.67 654.5,251.51 656.5,182.75 658.3,236.23 662.0,236.23 664.1,251.51 666.0,243.87 669.7,259.15 671.9,236.23 673.7,251.51 675.6,243.87 677.5,251.51 679.7,220.95 681.5,228.59 683.4,228.59 687.2,259.15 691.1,213.31 694.9,259.15 698.9,213.31 702.7,251.51 704.6,236.23 708.3,251.51 710.5,243.87 712.5,198.03 714.3,205.67 716.3,243.87 720.3,220.95 722.2,228.59 724.1,259.15 726.0,259.15 729.7,243.87 731.6,228.59 733.5,228.59 735.4,220.95 737.3,220.95 739.4,236.23 741.3,243.87 743.1,236.23 745.0,243.87 746.9,205.67 750.7,259.15 752.6,205.67 754.5,228.59 756.4,220.95 758.5,205.67 760.4,236.23 762.4,243.87 764.3,213.31 766.2,228.59 768.1,220.95 769.9,251.51 772.1,213.31 774.0,213.31 777.7,228.59 779.6,220.95 781.5,228.59 783.4,220.95 785.5,228.59 789.3,228.59 791.2,236.23 793.1,259.15 795.0,236.23 796.9,236.23 798.9,228.59 800.8,228.59 802.6,220.95 804.5,251.51 806.7,236.23 808.6,190.39 810.4,159.83 812.3,243.87 814.5,213.31 816.4,236.23 818.2,213.31 820.1,228.59 822.0,228.59 823.9,236.23 827.7,236.23 829.6,251.51 831.4,251.51 833.7,228.59 837.5,251.51 839.4,236.23 841.2,182.75 843.1,243.87 845.0,190.39 846.9,167.47 848.8,243.87 850.7,243.87 852.6,236.23 854.7,220.95 856.6,243.87 858.5,236.23 860.4,251.51 862.4,190.39 866.2,251.51 868.3,236.23 870.2,243.87 872.0,228.59 873.9,220.95 876.1,259.15 878.0,243.87 879.8,251.51 881.7,243.87 883.6,259.15 887.6,243.87 889.5,251.51 891.4,220.95 893.3,259.15 895.2,259.15 899.0,220.95 900.8,220.95 902.8,136.91 904.7,213.31 906.6,205.67 908.8,213.31 910.7,213.31 912.5,236.23 914.4,243.87 916.3,236.23 918.2,243.87 920.1,243.87 922.0,251.51 923.9,236.23 925.7,236.23 927.6,228.59 929.8,251.51 933.5,213.31 935.4,220.95 937.4,251.51 941.2,228.59 943.1,243.87 945.0,236.23 947.1,259.15 949.0,251.51 951.2,228.59 953.0,243.87 954.9,251.51 956.8,251.51 958.7,259.15 960.6,251.51 970.2,251.51 972.0,236.23" fill="none" stroke="#a582d1" stroke-width="1.6" stroke-linejoin="miter" stroke-miterlimit="4"/>
<rect x="50" y="74.5" width="1.1" height="401" fill="#808491"/>
<path d="M48.3 66.9 C48.2 69.5 47.9 71.6 47.3 72.9 L46.3 74.5 H54.5 L53.4 72.9 C52.8 71.6 52.6 69.5 52.5 66.9 Z" fill="#fff" stroke="#6c707c" stroke-width="0.95" stroke-linejoin="round"/>
<path d="M47 66.5 H53.9" stroke="#6c707c" stroke-width="1.1"/>
<path d="M43 71.3 H45.4 M44.2 70.1 V72.5" stroke="#6c707c" stroke-width="0.9"/>
<rect x="17.7" y="475.5" width="65.7" height="13" rx="2.5" fill="#3b404b"/>
<text x="19.8" y="485.7" font-size="10.2" fill="#e9ebef" textLength="62" lengthAdjust="spacingAndGlyphs">04/04 15:03:16</text>
<rect x="991.2" y="317.00" width="6.6" height="6.8" fill="#2c1f4e"/>
<rect x="991.2" y="325.53" width="6.6" height="6.8" fill="#4f3a8f"/>
<rect x="991.2" y="334.06" width="6.6" height="6.8" fill="#3f56b0"/>
<rect x="991.2" y="342.59" width="6.6" height="6.8" fill="#3570b8"/>
<rect x="991.2" y="351.12" width="6.6" height="6.8" fill="#2e93bf"/>
<rect x="991.2" y="359.65" width="6.6" height="6.8" fill="#3aa6b8"/>
<rect x="991.2" y="368.18" width="6.6" height="6.8" fill="#77c7c4"/>
<circle cx="993.20" cy="336.26" r="0.55" fill="#5b3d9c"/>
<circle cx="995.80" cy="336.26" r="0.55" fill="#5b3d9c"/>
<circle cx="993.20" cy="338.66" r="0.55" fill="#5b3d9c"/>
<circle cx="995.80" cy="338.66" r="0.55" fill="#5b3d9c"/>
<path d="M991.6 319.5 L993.6 317.4 M991.6 322.5 L996.6 317.4 M993.2 323.7 L997.6 319.2 M996 323.7 L997.6 322" stroke="#4f86cf" stroke-width="0.7" transform="translate(0 25.6)"/>
<circle cx="993.50" cy="353.42" r="0.55" fill="#2f6fb6"/>
<circle cx="995.70" cy="354.72" r="0.55" fill="#2f6fb6"/>
<circle cx="993.50" cy="356.12" r="0.55" fill="#2f6fb6"/>
<rect x="991.50" y="360.05" width="1.3" height="1.3" fill="#5ec3cf"/>
<rect x="995.70" y="360.05" width="1.3" height="1.3" fill="#5ec3cf"/>
<rect x="993.60" y="362.15" width="1.3" height="1.3" fill="#5ec3cf"/>
<rect x="991.50" y="364.25" width="1.3" height="1.3" fill="#5ec3cf"/>
<rect x="995.70" y="364.25" width="1.3" height="1.3" fill="#5ec3cf"/>
<circle cx="993.20" cy="370.38" r="0.5" fill="#63b9c9"/>
<circle cx="995.80" cy="370.38" r="0.5" fill="#63b9c9"/>
<circle cx="993.20" cy="372.78" r="0.5" fill="#63b9c9"/>
<circle cx="995.80" cy="372.78" r="0.5" fill="#63b9c9"/>
<text x="989.2" y="321.3" font-size="6.6" fill="#3f4350" text-anchor="end">16</text>
<text x="989.2" y="349.2" font-size="6.6" fill="#3f4350" text-anchor="end">8</text>
<text x="989.2" y="376" font-size="6.6" fill="#3f4350" text-anchor="end">1</text>
</svg></body></html>
